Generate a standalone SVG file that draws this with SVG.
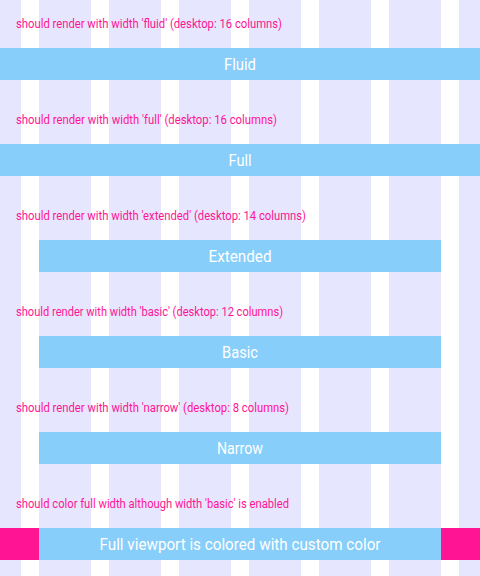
<svg xmlns="http://www.w3.org/2000/svg" width="480" height="576" viewBox="0 0 480 576">
<style>
.col{fill:#E6E6FF}
.bar{fill:#87CEFA}
.pink{fill:#FF1493}
.lbl{font-family:Roboto,"Liberation Sans",sans-serif;font-size:12px;fill:#FF1493}
.btxt{font-family:Roboto,"Liberation Sans",sans-serif;font-size:16px;fill:#FFFFFF;text-anchor:middle}
</style>
<rect width="480" height="576" fill="#FFFFFF"/>
<g id="columns">
<rect class="col" x="0" y="0" width="21" height="576"/>
<rect class="col" x="39" y="0" width="52" height="576"/>
<rect class="col" x="109" y="0" width="52" height="576"/>
<rect class="col" x="179" y="0" width="52" height="576"/>
<rect class="col" x="249" y="0" width="52" height="576"/>
<rect class="col" x="319" y="0" width="52" height="576"/>
<rect class="col" x="389" y="0" width="52" height="576"/>
<rect class="col" x="459" y="0" width="21" height="576"/>
</g>
<g id="fluid">
<text class="lbl" x="16" y="27.5" textLength="266" lengthAdjust="spacingAndGlyphs">should render with width 'fluid' (desktop: 16 columns)</text>
<rect class="bar" x="0" y="48" width="480" height="32"/>
<text class="btxt" x="240" y="70" textLength="32" lengthAdjust="spacingAndGlyphs">Fluid</text>
</g>
<g id="full">
<text class="lbl" x="16" y="123.5" textLength="261" lengthAdjust="spacingAndGlyphs">should render with width 'full' (desktop: 16 columns)</text>
<rect class="bar" x="0" y="144" width="480" height="32"/>
<text class="btxt" x="240" y="166" textLength="23" lengthAdjust="spacingAndGlyphs">Full</text>
</g>
<g id="extended">
<text class="lbl" x="16" y="219.5" textLength="290" lengthAdjust="spacingAndGlyphs">should render with width 'extended' (desktop: 14 columns)</text>
<rect class="bar" x="39" y="240" width="402" height="32"/>
<text class="btxt" x="240" y="262" textLength="63" lengthAdjust="spacingAndGlyphs">Extended</text>
</g>
<g id="basic">
<text class="lbl" x="16" y="315.5" textLength="267" lengthAdjust="spacingAndGlyphs">should render with width 'basic' (desktop: 12 columns)</text>
<rect class="bar" x="39" y="336" width="402" height="32"/>
<text class="btxt" x="240" y="358" textLength="36" lengthAdjust="spacingAndGlyphs">Basic</text>
</g>
<g id="narrow">
<text class="lbl" x="16" y="411.5" textLength="273" lengthAdjust="spacingAndGlyphs">should render with width 'narrow' (desktop: 8 columns)</text>
<rect class="bar" x="39" y="432" width="402" height="32"/>
<text class="btxt" x="240" y="454" textLength="46" lengthAdjust="spacingAndGlyphs">Narrow</text>
</g>
<g id="custom-color">
<text class="lbl" x="16" y="507.5" textLength="273" lengthAdjust="spacingAndGlyphs">should color full width although width 'basic' is enabled</text>
<rect class="pink" x="0" y="528" width="480" height="32"/>
<rect class="bar" x="39" y="528" width="402" height="32"/>
<text class="btxt" x="240" y="550" textLength="281" lengthAdjust="spacingAndGlyphs">Full viewport is colored with custom color</text>
</g>
<g id="connectors"/>
</svg>
